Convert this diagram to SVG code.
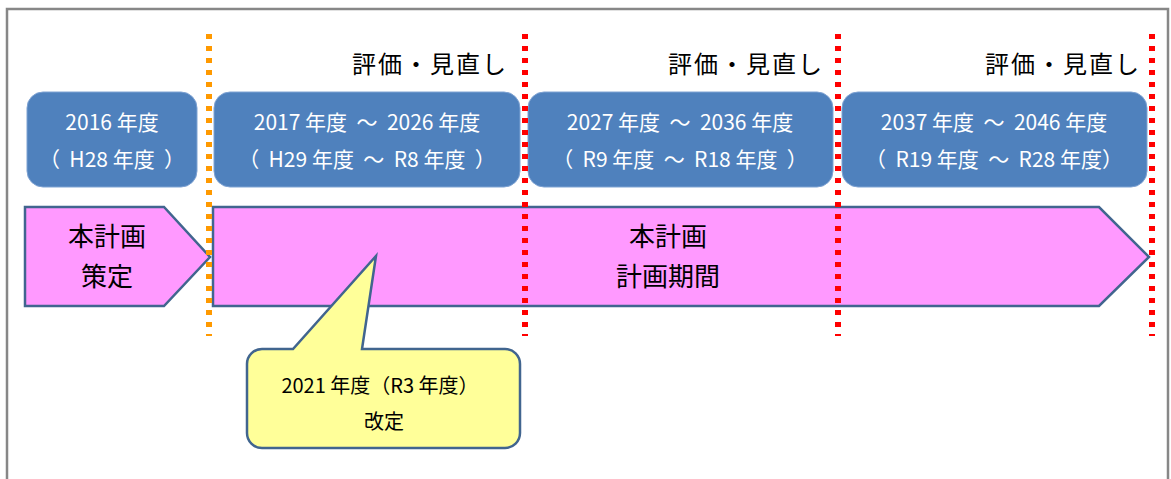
<svg xmlns="http://www.w3.org/2000/svg" width="1171" height="479" viewBox="0 0 1171 479">
<style>
text{font-family:"Noto Sans CJK JP","Noto Sans",sans-serif;white-space:pre;}
.frame{fill:#fff;stroke:#878787;stroke-width:2.5;}
.box{fill:#4F81BD;stroke:#7FA3D3;stroke-width:1;}
.boxt{fill:#fff;font-size:21px;text-anchor:middle;}
.pent{fill:#FF99FF;stroke:#41658F;stroke-width:2.5;stroke-linejoin:miter;}
.pentt{fill:#000;font-size:26px;text-anchor:middle;}
.call{fill:#FFFF99;stroke:#41658F;stroke-width:2.5;}
.callt{fill:#000;font-size:20px;text-anchor:middle;}
.title{fill:#000;font-size:24px;letter-spacing:2px;}
.dot{fill:none;stroke-width:6;stroke-dasharray:5 7;}
</style>
<rect class="frame" x="7" y="9" width="1161" height="480"/>
<g id="box1"><rect class="box" x="27" y="92" width="170" height="95" rx="16"/>
<text class="boxt" x="112" y="130">2016 年度</text>
<text class="boxt" x="112" y="167">（  H28 年度  ）</text></g>
<g id="box2"><rect class="box" x="214" y="92" width="306" height="95" rx="16"/>
<text class="boxt" x="367" y="130">2017 年度  ～  2026 年度</text>
<text class="boxt" x="367" y="167">（  H29 年度  ～  R8 年度  ）</text></g>
<g id="box3"><rect class="box" x="528" y="92" width="305" height="95" rx="16"/>
<text class="boxt" x="680" y="130">2027 年度  ～  2036 年度</text>
<text class="boxt" x="680" y="167">（  R9 年度  ～  R18 年度  ）</text></g>
<g id="box4"><rect class="box" x="842" y="92" width="305" height="95" rx="16"/>
<text class="boxt" x="994" y="130">2037 年度  ～  2046 年度</text>
<text class="boxt" x="994" y="167">（  R19 年度  ～  R28 年度）</text></g>
<g id="formulation"><path class="pent" d="M25 207H164L210 257L164 306H25Z"/>
<text class="pentt" x="107" y="246">本計画</text>
<text class="pentt" x="107" y="286">策定</text></g>
<g id="period"><path class="pent" d="M213 207H1099L1149 257L1099 306H213Z"/>
<text class="pentt" x="668" y="246">本計画</text>
<text class="pentt" x="668" y="286">計画期間</text></g>
<g id="revision"><path class="call" d="M262 349H293L376 256L362 349H505A15 15 0 0 1 520 364V433A15 15 0 0 1 505 448H262A15 15 0 0 1 247 433V364A15 15 0 0 1 262 349Z"/>
<text class="callt" x="380" y="393">2021 年度（R3 年度）</text>
<text class="callt" x="384" y="429">改定</text></g>
<g id="connectors">
<line class="dot" x1="209" y1="34" x2="209" y2="336" stroke="#FF9900"/>
<line class="dot" x1="525" y1="34" x2="525" y2="336" stroke="#FF0000"/>
<line class="dot" x1="838" y1="34" x2="838" y2="336" stroke="#FF0000"/>
<line class="dot" x1="1152" y1="34" x2="1152" y2="336" stroke="#FF0000"/>
</g>
<g id="titles">
<text class="title" x="352" y="73">評価・見直し</text>
<text class="title" x="668" y="73">評価・見直し</text>
<text class="title" x="985" y="73">評価・見直し</text>
</g>
</svg>
